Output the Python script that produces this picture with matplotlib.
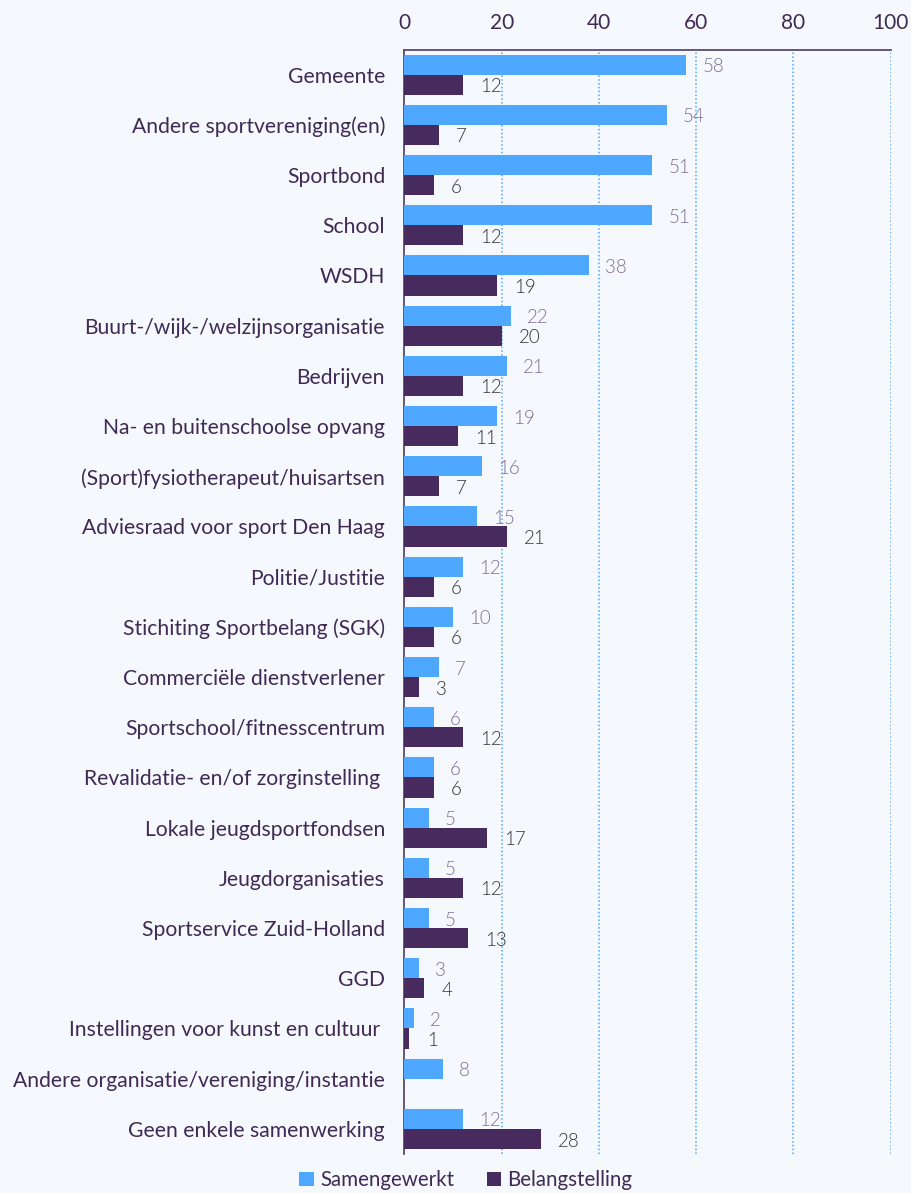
import matplotlib
matplotlib.use("Agg")
import matplotlib.pyplot as plt
import numpy as np

categories = [
    "Gemeente", "Andere sportvereniging(en)", "Sportbond", "School", "WSDH",
    "Buurt-/wijk-/welzijnsorganisatie", "Bedrijven", "Na- en buitenschoolse opvang",
    "(Sport)fysiotherapeut/huisartsen", "Adviesraad voor sport Den Haag",
    "Politie/Justitie", "Stichiting Sportbelang (SGK)", "Commerciële dienstverlener",
    "Sportschool/fitnesscentrum", "Revalidatie- en/of zorginstelling ",
    "Lokale jeugdsportfondsen", "Jeugdorganisaties", "Sportservice Zuid-Holland",
    "GGD", "Instellingen voor kunst en cultuur ",
    "Andere organisatie/vereniging/instantie", "Geen enkele samenwerking",
]
samengewerkt = [58, 54, 51, 51, 38, 22, 21, 19, 16, 15, 12, 10, 7, 6, 6, 5, 5, 5, 3, 2, 8, 12]
belangstelling = [12, 7, 6, 12, 19, 20, 12, 11, 7, 21, 6, 6, 3, 12, 6, 17, 12, 13, 4, 1, None, 28]
x_ticks = [0, 20, 40, 60, 80, 100]
series_names = ["Samengewerkt", "Belangstelling"]

BG = "#F5F8FD"
BLUE = "#4FA8FF"
PURPLE = "#472B5E"
TEXT = "#3F2A55"

plt.rcParams["font.family"] = ["Lato", "DejaVu Sans"]

fig = plt.figure(figsize=(9.12, 11.93), dpi=100, facecolor=BG)
ax = fig.add_axes([404.5 / 912, 1 - 1154 / 1193, (890.7 - 404.5) / 912, (1154 - 49.5) / 1193])
ax.set_facecolor(BG)

y = np.arange(len(categories))
h = 0.4
b1 = ax.barh(y - h / 2, samengewerkt, height=h, color=BLUE, label=series_names[0], zorder=3)
bel_vals = [v if v is not None else 0 for v in belangstelling]
b2 = ax.barh(y + h / 2, bel_vals, height=h, color=PURPLE, label=series_names[1], zorder=3)

for yi, v in zip(y, samengewerkt):
    ax.annotate(str(v), (v, yi - h / 2), xytext=(11.5, -1.5), textcoords="offset points",
                va="center", ha="left", fontsize=13.5, color="#7F6E96", fontweight=300)
for yi, v in zip(y, belangstelling):
    if v is None:
        continue
    ax.annotate(str(v), (v, yi + h / 2), xytext=(12.5, -1.5), textcoords="offset points",
                va="center", ha="left", fontsize=13.5, color="#333333", fontweight=300)

ax.set_xlim(0, 100)
ax.set_ylim(len(categories) - 0.5, -0.5)
ax.set_yticks(y)
ax.set_yticklabels(categories, fontsize=15.2, color=TEXT)
ax.xaxis.tick_top()
ax.set_xticks(x_ticks)
ax.set_xticklabels([str(t) for t in x_ticks], fontsize=15, color=TEXT)
ax.tick_params(axis="both", length=0)
ax.tick_params(axis="y", pad=14)
ax.tick_params(axis="x", pad=12)

for t in x_ticks[1:]:
    ax.axvline(t, color=BLUE, linestyle=(0, (1, 1.5)), linewidth=1.1, zorder=1)

for s in ["right", "bottom"]:
    ax.spines[s].set_visible(False)
for s in ["top", "left"]:
    ax.spines[s].set_color("#5A4870")
    ax.spines[s].set_linewidth(1.3)

leg = fig.legend(handles=[b1, b2], labels=series_names, loc="center",
                 bbox_to_anchor=(466 / 912, 1 - 1180 / 1193), ncol=2, frameon=False,
                 fontsize=14.8, handlelength=0.7, handleheight=0.7, handletextpad=0.3,
                 columnspacing=1.6, labelcolor=TEXT)

fig.savefig("out.png", dpi=100, facecolor=BG)
